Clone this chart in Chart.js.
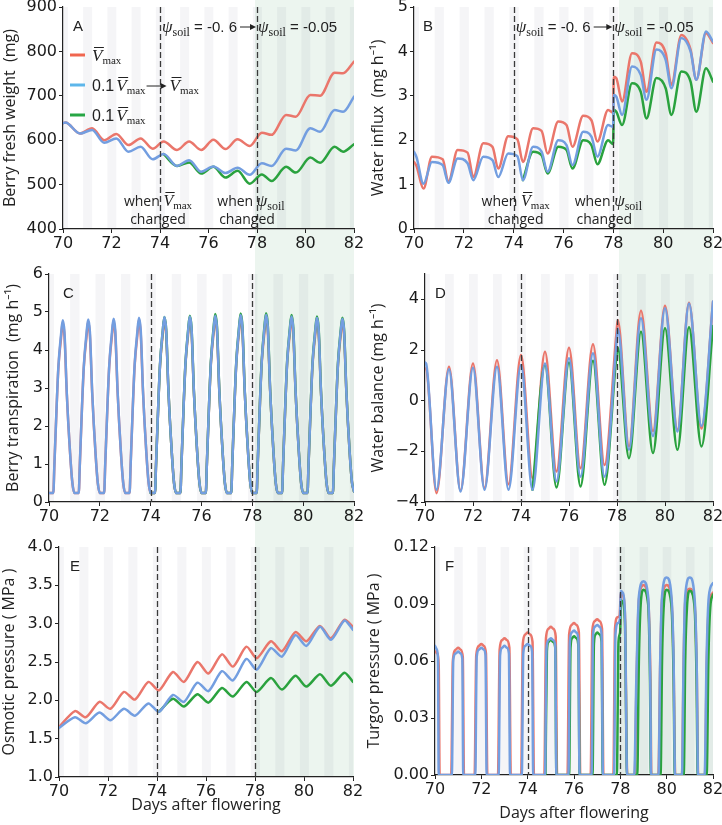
<!DOCTYPE html>
<html><head><meta charset="utf-8">
<script src="https://cdn.jsdelivr.net/npm/chart.js@4.4.1/dist/chart.umd.min.js"></script>
<style>
html,body{margin:0;padding:0;background:#fff}
body{width:722px;height:825px;position:relative;overflow:hidden}
.green{position:absolute;background:#ecf5ef}
canvas{position:absolute}
</style></head>
<body>
<div class="green" style="left:255px;top:0;width:99px;height:777px"></div>
<div class="green" style="left:619px;top:0;width:94px;height:776px"></div>
<script>
// ---------------- DATA ----------------
const dayTicks = [70,72,74,76,78,80,82];
const switchDays = [74,78];
const nightStarts = [69.83,70.83,71.83,72.83,73.83,74.83,75.83,76.83,77.83,78.83,79.83,80.83,81.83];
const nightLength = 0.37;

// A: berry fresh weight (mg)
const weightTicks = [400,500,600,700,800,900];
const weightDays  = [70,70.1,70.7,71.2,71.7,72.2,72.7,73.2,73.7,74.15,74.7,75.2,75.7,76.2,76.7,77.2,77.7,78.2,78.6,79.2,79.6,80.2,80.6,81.2,81.55,82];
const weightRed   = [638,640,615,627,600,614,589,604,581,597,578,597,578,601,580,602,587,617,612,657,653,702,700,752,751,777];
const weightBlue  = [638,640,615,623,594,604,574,585,557,569,542,555,529,541,526,538,522,548,542,581,577,627,619,668,664,698];
const weightGreen = [569,542,550,525,540,516,531,502,523,508,540,527,561,549,585,574,591]; // from 74.15

// B: water influx (mg h-1)
const influxTicks = [0,1,2,3,4,5];
const influxDays  = [70,70.1,70.38,70.72,71.15,71.38,71.75,72.15,72.38,72.78,73.15,73.38,73.78,74.15,74.37,74.78,75.12,75.36,75.79,76.12,76.36,76.79,77.12,77.36,77.79,77.99,78.02,78.12,78.35,78.75,79.1,79.33,79.73,80.1,80.33,80.73,81.1,81.33,81.72,82];
const influxRed   = [1.51,1.42,0.91,1.63,1.57,1.06,1.78,1.72,1.17,1.93,1.85,1.36,2.09,2.02,1.51,2.27,2.21,1.70,2.42,2.34,1.85,2.55,2.45,1.97,2.68,2.62,3.43,3.40,2.87,3.96,3.77,3.09,4.20,3.96,3.25,4.37,4.04,3.36,4.41,4.19];
const influxBlue  = [1.74,1.62,1.02,1.51,1.44,1.04,1.59,1.48,1.10,1.63,1.55,1.17,1.70,1.64,1.10,1.85,1.74,1.29,2.00,1.89,1.44,2.19,2.08,1.63,2.34,2.30,3.02,2.98,2.57,3.66,3.47,2.91,4.04,3.81,3.17,4.30,4.00,3.36,4.45,4.22];
const influxGreen = [1.10,1.74,1.66,1.25,1.85,1.78,1.36,2.00,1.89,1.46,2.00,1.91,2.68,2.64,2.34,3.28,3.09,2.49,3.40,3.17,2.57,3.55,3.32,2.64,3.62,3.32]; // from 74.37

// C: berry transpiration (mg h-1)
const transpTicks = [0,1,2,3,4,5,6];
const transpDays = [70,
 70.17,70.21,70.3,70.37,70.475,70.54,70.61,70.7,70.83,70.92,71,
 71.17,71.21,71.3,71.37,71.475,71.54,71.61,71.7,71.83,71.92,72,
 72.17,72.21,72.3,72.37,72.475,72.54,72.61,72.7,72.83,72.92,73,
 73.17,73.21,73.3,73.37,73.475,73.54,73.61,73.7,73.83,73.92,74,
 74.17,74.21,74.3,74.37,74.475,74.54,74.61,74.7,74.83,74.92,75,
 75.17,75.21,75.3,75.37,75.475,75.54,75.61,75.7,75.83,75.92,76,
 76.17,76.21,76.3,76.37,76.475,76.54,76.61,76.7,76.83,76.92,77,
 77.17,77.21,77.3,77.37,77.475,77.54,77.61,77.7,77.83,77.92,78,
 78.17,78.21,78.3,78.37,78.475,78.54,78.61,78.7,78.83,78.92,79,
 79.17,79.21,79.3,79.37,79.475,79.54,79.61,79.7,79.83,79.92,80,
 80.17,80.21,80.3,80.37,80.475,80.54,80.61,80.7,80.83,80.92,81,
 81.17,81.21,81.3,81.37,81.475,81.54,81.61,81.7,81.83,81.92,82];
const transpBlue = [0.24,
 0.24,0.94,2.52,3.57,4.42,4.78,4.45,2.87,1.29,0.5,0.24,
 0.24,0.94,2.54,3.58,4.44,4.80,4.47,2.88,1.29,0.5,0.24,
 0.24,0.95,2.55,3.60,4.46,4.82,4.49,2.90,1.30,0.5,0.24,
 0.24,0.95,2.56,3.62,4.48,4.85,4.51,2.90,1.30,0.5,0.24,
 0.24,0.96,2.57,3.64,4.50,4.87,4.53,2.92,1.31,0.5,0.24,
 0.24,0.96,2.58,3.65,4.51,4.88,4.54,2.92,1.31,0.5,0.24,
 0.24,0.97,2.60,3.67,4.53,4.90,4.56,2.94,1.32,0.5,0.24,
 0.24,0.97,2.60,3.68,4.55,4.92,4.58,2.94,1.32,0.5,0.24,
 0.24,0.98,2.62,3.70,4.56,4.93,4.59,2.95,1.33,0.51,0.24,
 0.24,0.97,2.60,3.68,4.52,4.88,4.55,2.93,1.32,0.5,0.24,
 0.24,0.96,2.58,3.66,4.49,4.85,4.52,2.92,1.31,0.5,0.24,
 0.24,0.96,2.57,3.64,4.47,4.82,4.50,2.90,1.30,0.52,0.28];
const transpRed = [0.24,
 0.24,0.93,2.50,3.54,4.32,4.73,4.35,2.85,1.28,0.5,0.24,
 0.24,0.93,2.52,3.55,4.34,4.75,4.37,2.86,1.28,0.5,0.24,
 0.24,0.94,2.53,3.57,4.36,4.77,4.39,2.88,1.29,0.5,0.24,
 0.24,0.94,2.54,3.59,4.38,4.80,4.41,2.88,1.29,0.5,0.24,
 0.24,0.95,2.55,3.61,4.40,4.82,4.43,2.90,1.30,0.5,0.24,
 0.24,0.95,2.56,3.62,4.41,4.83,4.44,2.90,1.30,0.5,0.24,
 0.24,0.96,2.58,3.64,4.43,4.85,4.46,2.92,1.31,0.5,0.24,
 0.24,0.96,2.58,3.65,4.45,4.87,4.48,2.92,1.31,0.5,0.24,
 0.24,0.97,2.60,3.67,4.46,4.88,4.49,2.93,1.32,0.51,0.24,
 0.24,0.96,2.58,3.65,4.42,4.83,4.45,2.91,1.31,0.5,0.24,
 0.24,0.95,2.56,3.63,4.39,4.80,4.42,2.90,1.30,0.5,0.24,
 0.24,0.95,2.55,3.61,4.37,4.77,4.40,2.88,1.29,0.52,0.28];
const transpGreen = [0.24, // from 74.0
 0.24,0.96,2.57,3.64,4.50,4.87,4.53,2.92,1.31,0.5,0.24,
 0.24,0.97,2.59,3.66,4.53,4.90,4.56,2.93,1.31,0.5,0.24,
 0.24,0.98,2.62,3.70,4.58,4.95,4.61,2.96,1.33,0.5,0.24,
 0.24,0.98,2.62,3.71,4.59,4.96,4.62,2.96,1.33,0.5,0.24,
 0.24,0.99,2.64,3.72,4.60,4.97,4.63,2.97,1.34,0.51,0.24,
 0.24,0.98,2.62,3.70,4.56,4.92,4.59,2.95,1.33,0.5,0.24,
 0.24,0.97,2.60,3.68,4.52,4.88,4.55,2.93,1.32,0.5,0.24,
 0.24,0.97,2.59,3.66,4.50,4.85,4.53,2.92,1.31,0.52,0.28];

// D: water balance (mg h-1)
const balanceTicks = [-4,-2,0,2,4];
const balanceDays  = [70,70.05,70.48,71,71.48,72,72.48,73,73.48,74,74.48,75,75.48,76,76.48,77,77.48,77.97,78.03,78.5,79,79.5,80,80.52,81,81.52,82];
const balanceRed   = [1.27,1.25,-3.65,1.34,-3.55,1.47,-3.45,1.60,-3.30,1.80,-3.06,1.93,-2.80,2.09,-2.67,2.23,-2.54,2.60,3.18,-1.80,3.55,-1.20,3.75,-1.15,3.87,-1.10,3.90];
const balanceBlue  = [1.51,1.45,-3.52,1.24,-3.59,1.30,-3.52,1.34,-3.52,1.41,-3.52,1.47,-3.19,1.67,-3.00,1.87,-3.00,2.20,2.85,-1.94,3.25,-1.40,3.65,-1.22,3.84,-1.00,3.91];
const balanceGreen = [-3.52,1.41,-3.43,1.51,-3.39,1.58,-3.32,1.70,2.10,-2.27,2.72,-2.07,2.86,-1.94,2.90,-1.81,2.95]; // from 74.48

// E: osmotic pressure (MPa)
const osmoticTicks = [1.0,1.5,2.0,2.5,3.0,3.5,4.0];
const osmoticDays  = [70,70.65,71.1,71.65,72.1,72.65,73.1,73.65,74.08,74.65,75.1,75.65,76.1,76.65,77.1,77.65,78.07,78.65,79.1,79.65,80.1,80.65,81.1,81.65,82];
const osmoticRed   = [1.65,1.86,1.78,1.98,1.89,2.11,2.01,2.24,2.13,2.37,2.24,2.50,2.35,2.60,2.44,2.70,2.55,2.77,2.64,2.89,2.77,2.97,2.81,3.05,2.96];
const osmoticBlue  = [1.64,1.78,1.70,1.84,1.74,1.89,1.80,1.96,1.85,2.07,1.98,2.23,2.12,2.38,2.26,2.54,2.40,2.68,2.57,2.85,2.71,2.96,2.79,3.04,2.92];
const osmoticGreen = [1.85,2.02,1.92,2.08,1.97,2.16,2.05,2.24,2.11,2.29,2.14,2.32,2.18,2.34,2.19,2.36,2.24]; // from 74.08

// F: turgor pressure (MPa), [day, value]
const turgorTicks = [0,0.03,0.06,0.09,0.12];
const turgorBlue = [
 [70,0.068],[70.08,0.066],[70.13,0.06],[70.16,0],
 [70.73,0],[70.79,0.061],[70.9,0.064],[71,0.065],[71.1,0.064],[71.18,0.061],[71.22,0],
 [71.74,0],[71.8,0.062],[71.9,0.066],[72,0.067],[72.1,0.066],[72.18,0.063],[72.23,0],
 [72.75,0],[72.81,0.063],[72.9,0.067],[73,0.068],[73.1,0.067],[73.19,0.064],[73.24,0],
 [73.75,0],[73.81,0.064],[73.9,0.068],[74,0.069],[74.1,0.068],[74.19,0.065],[74.24,0],
 [74.75,0],[74.81,0.066],[74.9,0.071],[75,0.072],[75.1,0.071],[75.19,0.068],[75.24,0],
 [75.76,0],[75.82,0.07],[75.9,0.075],[76,0.076],[76.1,0.075],[76.19,0.071],[76.24,0],
 [76.76,0],[76.82,0.073],[76.9,0.078],[77,0.079],[77.1,0.078],[77.19,0.074],[77.25,0],
 [77.73,0],[77.79,0.074],[77.9,0.08],[77.98,0.082],[78.02,0.097],[78.1,0.096],[78.2,0.085],[78.29,0],
 [78.6,0],[78.69,0.05],[78.8,0.094],[79,0.102],[79.2,0.094],[79.29,0.05],[79.33,0],
 [79.65,0],[79.72,0.06],[79.8,0.094],[80,0.104],[80.2,0.095],[80.3,0.06],[80.36,0],
 [80.66,0],[80.73,0.06],[80.8,0.094],[81,0.104],[81.2,0.094],[81.3,0.055],[81.35,0],
 [81.64,0],[81.72,0.06],[81.82,0.094],[82,0.101]];
const turgorRed = [
 [70,0.065],[70.1,0.064],[70.16,0.058],[70.2,0],
 [70.7,0],[70.77,0.06],[70.9,0.066],[71,0.067],[71.1,0.066],[71.2,0.062],[71.25,0],
 [71.71,0],[71.78,0.063],[71.9,0.068],[72,0.069],[72.1,0.068],[72.2,0.064],[72.26,0],
 [72.72,0],[72.79,0.066],[72.9,0.071],[73,0.072],[73.1,0.071],[73.21,0.067],[73.27,0],
 [73.72,0],[73.79,0.069],[73.9,0.074],[74,0.075],[74.1,0.074],[74.21,0.07],[74.27,0],
 [74.72,0],[74.79,0.072],[74.9,0.077],[75,0.078],[75.1,0.077],[75.21,0.073],[75.27,0],
 [75.72,0],[75.79,0.074],[75.9,0.079],[76,0.08],[76.1,0.079],[76.21,0.075],[76.27,0],
 [76.72,0],[76.79,0.076],[76.9,0.081],[77,0.082],[77.1,0.081],[77.21,0.077],[77.27,0],
 [77.7,0],[77.77,0.077],[77.88,0.083],[77.97,0.084],[78.02,0.096],[78.1,0.095],[78.2,0.084],[78.3,0],
 [78.62,0],[78.7,0.05],[78.8,0.092],[79,0.1],[79.2,0.092],[79.3,0.05],[79.34,0],
 [79.64,0],[79.72,0.058],[79.8,0.092],[80,0.1],[80.2,0.093],[80.3,0.058],[80.37,0],
 [80.66,0],[80.73,0.058],[80.8,0.091],[81,0.098],[81.2,0.091],[81.3,0.054],[81.36,0],
 [81.65,0],[81.73,0.058],[81.83,0.09],[82,0.096]];
const turgorGreen = [
 [74.77,0],[74.83,0.065],[74.9,0.07],[75,0.071],[75.1,0.07],[75.19,0.067],[75.24,0],
 [75.79,0],[75.85,0.067],[75.92,0.072],[76,0.073],[76.1,0.072],[76.19,0.068],[76.24,0],
 [76.8,0],[76.86,0.069],[76.93,0.074],[77,0.075],[77.1,0.074],[77.19,0.07],[77.24,0],
 [77.85,0],[77.92,0.07],[77.99,0.075],[78.03,0.092],[78.1,0.091],[78.2,0.08],[78.29,0],
 [78.73,0],[78.8,0.06],[78.88,0.09],[79,0.0975],[79.2,0.09],[79.28,0.05],[79.32,0],
 [79.74,0],[79.8,0.06],[79.88,0.09],[80,0.0975],[80.2,0.09],[80.3,0.05],[80.35,0],
 [80.74,0],[80.8,0.06],[80.88,0.089],[81,0.097],[81.2,0.089],[81.29,0.05],[81.34,0],
 [81.73,0],[81.8,0.06],[81.88,0.088],[82,0.095]];

// ---------------- STYLE ----------------
const RED='#ea766b', BLUE='#739ee0', GREEN='#2aa23e';
const LEG_RED='#f0664f', LEG_BLUE='#5db6ea', LEG_GREEN='#27a645';
const SERIF='"Liberation Serif","DejaVu Serif",serif';
const SANS='"Liberation Sans",Arial,sans-serif';
const TICKF='"DejaVu Sans",sans-serif';
const HUM='"Open Sans","Noto Sans",sans-serif';
const TXT='#222';

function pairs(xs, ys, offset){ offset=offset||0; return ys.map((y,i)=>({x:xs[offset+i], y:y})); }
function pts(arr){ return arr.map(p=>({x:p[0], y:p[1]})); }

// rich text helpers
function segV(size){ return [{t:'V',f:'italic '+size+'px '+SERIF,bar:true},{t:'max',f:Math.round(size*0.66)+'px '+SERIF,dy:3}]; }
function segPsi(){ return [{t:'\u03C8',f:'italic 17px '+SERIF},{t:'soil',f:'12px '+SERIF,dy:4}]; }
function measure(ctx,segs){ let w=0; for(const s of segs){ if(s.arrow){w+=s.arrow;} else {ctx.font=s.f; w+=ctx.measureText(s.t).width;} w+=(s.gap||0);} return w; }
function arrow(ctx,x0,x1,y){ ctx.save(); ctx.lineWidth=1; ctx.beginPath(); ctx.moveTo(x0,y); ctx.lineTo(x1-3,y); ctx.stroke();
  ctx.beginPath(); ctx.moveTo(x1,y); ctx.lineTo(x1-6,y-3); ctx.lineTo(x1-6,y+3); ctx.closePath(); ctx.fill(); ctx.restore(); }
function drawSegs(ctx,x,y,segs){
  for(const s of segs){
    if(s.arrow){ arrow(ctx,x+1,x+s.arrow-1,y-5); x+=s.arrow; }
    else { ctx.font=s.f; ctx.fillText(s.t,x,y+(s.dy||0)); const w=ctx.measureText(s.t).width;
      if(s.bar){ ctx.save(); ctx.lineWidth=1; ctx.beginPath(); ctx.moveTo(x+2,y-13.5); ctx.lineTo(x+w+1.5,y-13.5); ctx.stroke(); ctx.restore(); }
      x+=w; }
    x+=(s.gap||0);
  }
  return x;
}
function drawCentered(ctx,cx,y,segs){ return drawSegs(ctx,cx-measure(ctx,segs)/2,y,segs); }

function psiLine(chart){
  const {ctx,chartArea:a,scales:{x}}=chart;
  const xa=x.getPixelForValue(switchDays[0]), xb=x.getPixelForValue(switchDays[1]);
  const end=drawSegs(ctx,xa+2,a.top+25,[...segPsi(),{t:' = -0. 6',f:'15px '+SANS}]);
  arrow(ctx,end+3,xb-1,a.top+20);
  drawSegs(ctx,xb+1,a.top+25,[...segPsi(),{t:' = -0.05',f:'15px '+SANS}]);
}
function whenTexts(chart,dv,dp){
  const {ctx,chartArea:a,scales:{x}}=chart;
  const xa=x.getPixelForValue(switchDays[0]), xb=x.getPixelForValue(switchDays[1]);
  const ch=[{t:'changed',f:'14px '+HUM}];
  drawCentered(ctx,xa+dv,a.bottom-23,[{t:'when ',f:'14px '+HUM},...segV(16)]);
  drawCentered(ctx,xa+dv,a.bottom-5,ch);
  drawCentered(ctx,xb+dp,a.bottom-23,[{t:'when ',f:'14px '+HUM},...segPsi()]);
  drawCentered(ctx,xb+dp-4,a.bottom-5,ch);
}
function legendA(chart){
  const {ctx,chartArea:a}=chart;
  const rows=[
    {c:LEG_RED, segs:segV(17)},
    {c:LEG_BLUE, segs:[{t:'0.1',f:'16px '+SANS,gap:2},...segV(17),{arrow:22,gap:2},...segV(17)]},
    {c:LEG_GREEN, segs:[{t:'0.1',f:'16px '+SANS,gap:2},...segV(17)]}
  ];
  rows.forEach((r,i)=>{
    const y=a.top+48+i*30;
    ctx.save(); ctx.strokeStyle=r.c; ctx.lineWidth=3; ctx.beginPath(); ctx.moveTo(a.left+7,y); ctx.lineTo(a.left+22,y); ctx.stroke(); ctx.restore();
    drawSegs(ctx,a.left+29,y+6,r.segs);
  });
}

function decor(p){ return {
  id:'decor'+p.id,
  beforeDraw(chart){
    const {ctx,chartArea:a,scales:{x}}=chart;
    ctx.save(); ctx.fillStyle='rgba(30,30,70,0.045)';
    for(const s of nightStarts){
      const x0=Math.max(a.left,x.getPixelForValue(s)), x1=Math.min(a.right,x.getPixelForValue(s+nightLength));
      if(x1>x0) ctx.fillRect(x0,a.top,x1-x0,a.bottom-a.top);
    }
    ctx.restore();
  },
  afterDatasetsDraw(chart){
    const {ctx,chartArea:a,scales:{x}}=chart;
    ctx.save(); ctx.strokeStyle='#3a3a3a'; ctx.lineWidth=1.3; ctx.setLineDash([6,3]);
    for(const d of switchDays){ const px=Math.round(x.getPixelForValue(d))+0.5; ctx.beginPath(); ctx.moveTo(px,a.top); ctx.lineTo(px,a.bottom); ctx.stroke(); }
    ctx.restore();
  },
  afterDraw(chart){
    const {ctx,chartArea:a}=chart;
    ctx.save(); ctx.fillStyle=TXT; ctx.strokeStyle=TXT; ctx.textBaseline='alphabetic'; ctx.textAlign='left';
    ctx.font='15px '+SANS; ctx.fillText(p.id,a.left+p.letterDx,a.top+24);
    if(p.annotate) p.annotate(chart);
    ctx.restore();
  }
};}

function makeChart(p){
  const c=document.createElement('canvas');
  c.width=p.w; c.height=p.h;
  c.style.left=p.left+'px'; c.style.top=p.top+'px'; c.style.width=p.w+'px'; c.style.height=p.h+'px';
  document.body.appendChild(c);
  const datasets=p.series.map(s=>({data:s.data,borderColor:s.color,borderWidth:s.width||2.5,pointRadius:0,fill:false,
    cubicInterpolationMode:p.mode||'monotone',tension:p.tension||0,borderJoinStyle:'round',borderCapStyle:'round',spanGaps:false}));
  new Chart(c.getContext('2d'),{
    type:'line',
    data:{datasets},
    options:{
      responsive:false, animation:false, devicePixelRatio:1,
      layout:{padding:{left:0,top:p.padTop,right:p.padRight,bottom:0}},
      plugins:{legend:{display:false},tooltip:{enabled:false}},
      scales:{
        x:{type:'linear',min:70,max:82,
          afterBuildTicks:s=>{s.ticks=dayTicks.map(v=>({value:v}));},
          afterFit:s=>{s.height=p.xH; s.paddingLeft=0; s.paddingRight=0;},
          grid:{display:true,drawOnChartArea:false,drawTicks:true,tickLength:4,color:'#222',lineWidth:1},
          border:{display:true,color:'#222',width:1.2},
          ticks:{font:{family:TICKF,size:16},color:'#1a1a1a',padding:1,maxRotation:0,autoSkip:false},
          title:{display:!!p.xTitle,text:p.xTitle||'',font:{family:HUM,size:16},color:TXT,padding:{top:0,bottom:p.xTitlePad||0}}},
        y:{type:'linear',min:p.yMin,max:p.yMax,
          afterBuildTicks:s=>{s.ticks=p.yTicks.map(v=>({value:v}));},
          afterFit:s=>{s.width=p.yW; s.paddingTop=0; s.paddingBottom=0;},
          grid:{display:true,drawOnChartArea:false,drawTicks:true,tickLength:4,color:'#222',lineWidth:1},
          border:{display:true,color:'#222',width:1.2},
          ticks:{font:{family:TICKF,size:16},color:'#1a1a1a',padding:2,callback:p.fmt},
          title:{display:true,text:p.yTitle,font:{family:HUM,size:16},color:TXT,padding:{top:p.yTitlePad,bottom:0}}}
      }
    },
    plugins:[decor(p)]
  });
}

const minus=v=>(v<0?'\u2212'+Math.abs(v):String(v));

makeChart({id:'A',left:0,top:0,w:372,h:262,padTop:7,padRight:18,yW:63,xH:33,yMin:400,yMax:900,yTicks:weightTicks,fmt:v=>String(v),
  yTitle:'Berry fresh weight  (mg)',yTitlePad:1,letterDx:10,
  series:[{data:pairs(weightDays,weightBlue),color:BLUE},{data:pairs(weightDays,weightGreen,9),color:GREEN},{data:pairs(weightDays,weightRed),color:RED}],
  annotate:c=>{psiLine(c); legendA(c); whenTexts(c,-2,-6);}});
makeChart({id:'B',left:362,top:0,w:360,h:262,padTop:7,padRight:9,yW:52,xH:33,yMin:0,yMax:5,yTicks:influxTicks,fmt:v=>String(v),
  yTitle:'Water influx  (mg h\u207B\u00B9)',yTitlePad:7,letterDx:9,
  series:[{data:pairs(influxDays,influxBlue),color:BLUE},{data:pairs(influxDays,influxGreen,14),color:GREEN},{data:pairs(influxDays,influxRed),color:RED}],
  annotate:c=>{psiLine(c); whenTexts(c,2,-5);}});
makeChart({id:'C',left:0,top:262,w:372,h:275,padTop:12,padRight:18,yW:49,xH:35,yMin:0,yMax:6,yTicks:transpTicks,fmt:v=>String(v),
  yTitle:'Berry transpiration  (mg h\u207B\u00B9)',yTitlePad:4,letterDx:14,
  series:[{data:pairs(transpDays,transpBlue),color:BLUE},{data:pairs(transpDays,transpGreen,44),color:GREEN},{data:pairs(transpDays,transpRed),color:RED}]});
makeChart({id:'D',left:362,top:262,w:360,h:275,padTop:12,padRight:9,yW:63,xH:35,yMin:-4,yMax:5,yTicks:balanceTicks,fmt:minus,
  yTitle:'Water balance (mg h\u207B\u00B9)',yTitlePad:7,letterDx:10,
  series:[{data:pairs(balanceDays,balanceBlue),color:BLUE},{data:pairs(balanceDays,balanceGreen,10),color:GREEN},{data:pairs(balanceDays,balanceRed),color:RED}]});
makeChart({id:'E',left:0,top:537,w:372,h:288,padTop:10,padRight:19,yW:59,xH:48,yMin:1,yMax:4,yTicks:osmoticTicks,fmt:v=>v.toFixed(1),
  yTitle:'Osmotic pressure ( MPa )',yTitlePad:0,letterDx:11,xTitle:'Days after flowering',xTitlePad:10,mode:'default',tension:0.25,
  series:[{data:pairs(osmoticDays,osmoticBlue),color:BLUE},{data:pairs(osmoticDays,osmoticGreen,8),color:GREEN},{data:pairs(osmoticDays,osmoticRed),color:RED}]});
makeChart({id:'F',left:362,top:537,w:360,h:288,padTop:10,padRight:9,yW:73,xH:50,yMin:0,yMax:0.12,yTicks:turgorTicks,fmt:v=>v.toFixed(2),
  yTitle:'Turgor pressure ( MPa )',yTitlePad:3,letterDx:10,xTitle:'Days after flowering',xTitlePad:2,
  series:[{data:pts(turgorBlue),color:BLUE},{data:pts(turgorGreen),color:GREEN},{data:pts(turgorRed),color:RED}]});
</script>
</body></html>
